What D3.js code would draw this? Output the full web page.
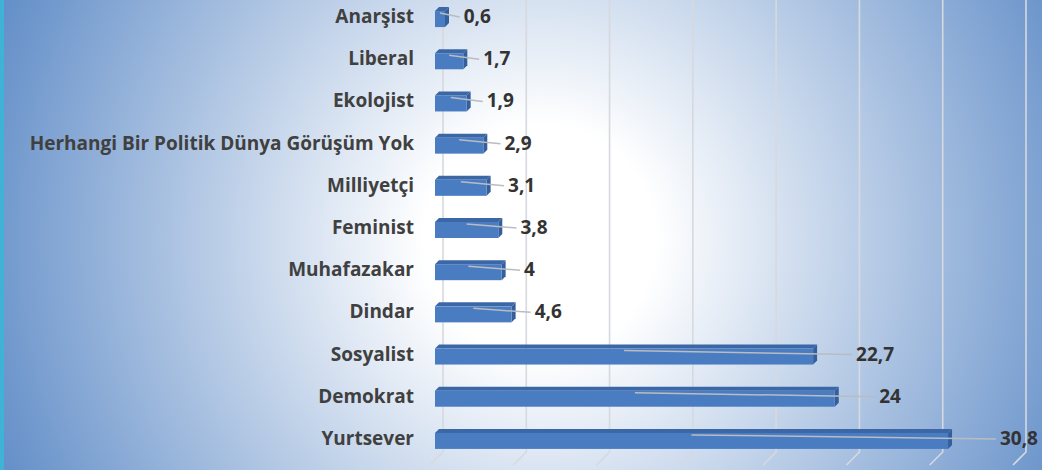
<!DOCTYPE html>
<html>
  <head>
    <meta charset="utf-8" />
    <title>politik dünya görüşü</title>
    <script src="https://d3js.org/d3.v7.min.js"></script>
    <style>
      body { margin: 0; overflow: hidden; }
      text { font-family: "Open Sans", Lato, sans-serif; font-weight: bold; }
    </style>
  </head>
  <body>
    <script>
      // data (top to bottom)
      const categories = [
        "Anarşist", "Liberal", "Ekolojist", "Herhangi Bir Politik Dünya Görüşüm Yok",
        "Milliyetçi", "Feminist", "Muhafazakar", "Dindar", "Sosyalist", "Demokrat", "Yurtsever"
      ];
      const values = [0.6, 1.7, 1.9, 2.9, 3.1, 3.8, 4, 4.6, 22.7, 24, 30.8];
      const valueLabels = ["0,6", "1,7", "1,9", "2,9", "3,1", "3,8", "4", "4,6", "22,7", "24", "30,8"];
      const gridTicks = [0, 5, 10, 15, 20, 25, 30, 35];

      const width = 1042, height = 470;
      const depth = 8; // 3d offset of back wall

      const svg = d3.select("body").append("svg")
        .attr("width", width)
        .attr("height", height);

      // background: radial white -> blue
      const defs = svg.append("defs");
      const grad = defs.append("radialGradient")
        .attr("id", "bg")
        .attr("gradientUnits", "userSpaceOnUse")
        .attr("cx", 540).attr("cy", 240).attr("r", 580);
      grad.append("stop").attr("offset", 0).attr("stop-color", "#ffffff");
      grad.append("stop").attr("offset", 0.2).attr("stop-color", "#ffffff");
      grad.append("stop").attr("offset", 1).attr("stop-color", "#6590c9");

      svg.append("rect").attr("width", width).attr("height", height).attr("fill", "url(#bg)");
      svg.append("rect").attr("width", 4).attr("height", height).attr("fill", "#3fb3d6");

      const x = d3.scaleLinear().domain([0, 35]).range([435, 1018]);
      const y = d3.scaleBand().domain(categories).range([-5, 459]);
      const cy = d => y(d) + y.bandwidth() / 2;

      // gridlines on back wall + floor slant
      const floorY = 452;
      svg.append("g").selectAll("path")
        .data(gridTicks)
        .join("path")
        .attr("d", t => `M${x(t) + depth},0 V${floorY} L${x(t) - 5},${floorY + 13}`)
        .attr("fill", "none")
        .attr("stroke", "#d6d9de")
        .attr("stroke-width", 1.6);

      const rows = categories.map((c, i) => ({ c, v: values[i], lab: valueLabels[i] }));

      const frontH = 16, topH = 4, sideW = 4;
      const bars = svg.append("g").selectAll("g").data(rows).join("g");

      // top face
      bars.append("path")
        .attr("d", d => {
          const y0 = cy(d.c) - 5, x0 = x(0), x1 = x(d.v);
          return `M${x0},${y0} L${x0 + sideW},${y0 - topH} L${x1 + sideW},${y0 - topH} L${x1},${y0} Z`;
        })
        .attr("fill", "#3b67a6");
      // side face
      bars.append("path")
        .attr("d", d => {
          const y0 = cy(d.c) - 5, x1 = x(d.v);
          return `M${x1},${y0} L${x1 + sideW},${y0 - topH} L${x1 + sideW},${y0 + frontH - topH} L${x1},${y0 + frontH} Z`;
        })
        .attr("fill", "#345f9c");
      // front face
      bars.append("rect")
        .attr("x", x(0))
        .attr("y", d => cy(d.c) - 5)
        .attr("width", d => x(d.v) - x(0))
        .attr("height", frontH)
        .attr("fill", "#4a7cc1");

      // leader lines + value labels
      const labelX = d => x(d.v) + sideW + 14 + d.v * 1.1;
      bars.append("path")
        .attr("d", d => `M${x(d.v / 2)},${cy(d.c) - 3} L${labelX(d) - 4},${cy(d.c) + 1}`)
        .attr("fill", "none")
        .attr("stroke", "#b9bcc2")
        .attr("stroke-width", 1.5);
      bars.append("text")
        .attr("x", labelX)
        .attr("y", d => cy(d.c) + 7)
        .attr("font-size", 19)
        .attr("fill", "#333333")
        .text(d => d.lab);

      // category labels
      svg.append("g").selectAll("text")
        .data(categories)
        .join("text")
        .attr("x", 414)
        .attr("y", d => cy(d) + 7)
        .attr("text-anchor", "end")
        .attr("font-size", 19)
        .attr("fill", "#404040")
        .text(d => d);
    </script>
  </body>
</html>
